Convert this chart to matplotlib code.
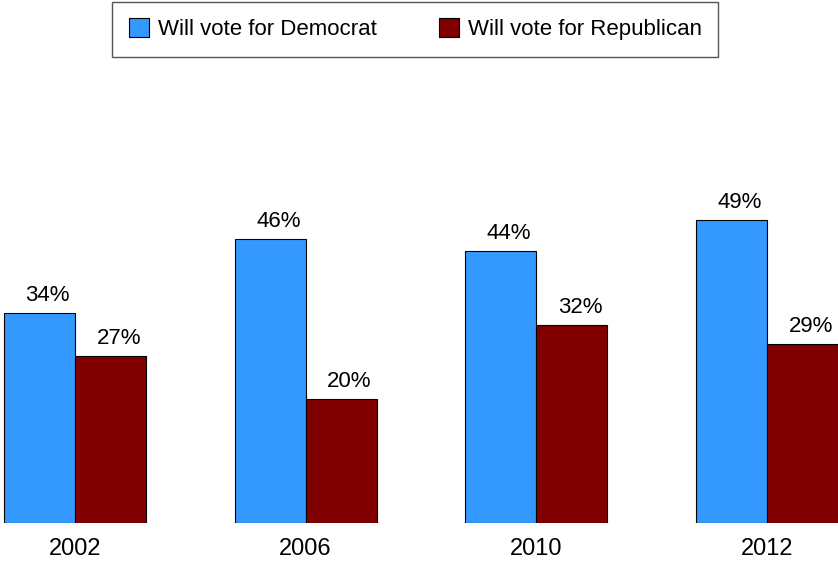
import numpy as np
import matplotlib.pyplot as plt

plt.rcParams['font.family'] = ['Liberation Sans', 'DejaVu Sans']

years = ['2002', '2006', '2010', '2012']
dem = [34, 46, 44, 49]
rep = [27, 20, 32, 29]

fig = plt.figure(figsize=(8.38, 5.62), dpi=100)
ax = fig.add_axes([0, 0.0694, 1, 0.824])

x = np.arange(len(years))
w = 0.308
b1 = ax.bar(x - w / 2, dem, width=w, color='#3399ff', edgecolor='black', linewidth=0.8,
            label='Will vote for Democrat')
b2 = ax.bar(x + w / 2, rep, width=w, color='#800000', edgecolor='black', linewidth=0.8,
            label='Will vote for Republican')

for bars, vals in [(b1, dem), (b2, rep)]:
    for bar, v in zip(bars, vals):
        ax.annotate(f'{v}%', (bar.get_x() + bar.get_width() / 2, v),
                    xytext=(6, 5), textcoords='offset points',
                    ha='center', va='bottom', fontsize=16)

ax.set_xlim(-0.325, 3.309)
ax.set_ylim(0, 74.9)
ax.set_xticks(x)
ax.set_xticklabels(years, fontsize=17)
ax.tick_params(axis='x', length=0, pad=11)
ax.set_yticks([])
for s in ax.spines.values():
    s.set_visible(False)

fig.legend(loc='upper center', bbox_to_anchor=(0.4955, 0.997), ncol=2, fontsize=16,
           fancybox=False, edgecolor='#555555', framealpha=1, borderaxespad=0,
           handlelength=0.9, handleheight=0.9, handletextpad=0.4, columnspacing=2.8,
           borderpad=0.75)

fig.savefig('out.png', dpi=100)
